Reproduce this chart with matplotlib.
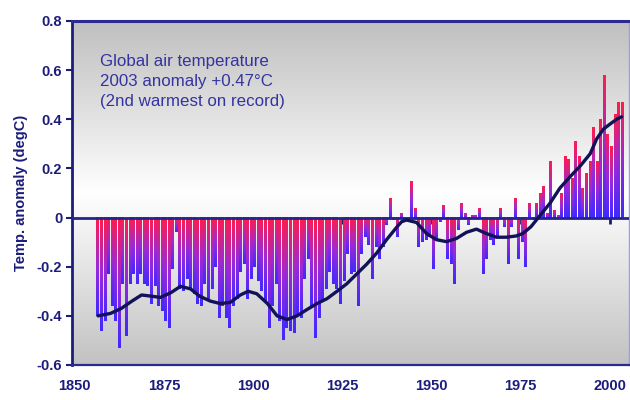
import numpy as np
import matplotlib
matplotlib.use('Agg')
import matplotlib.pyplot as plt
from matplotlib.colors import LinearSegmentedColormap

plt.rcParams['font.family'] = ['Liberation Sans', 'DejaVu Sans']

# annual global anomalies 1856-2003 (degC)
years = np.arange(1856, 2004)
temps = [
    -0.40, -0.46, -0.42, -0.23, -0.36, -0.42, -0.53, -0.27, -0.48, -0.27,  # 1856-1865
    -0.23, -0.27, -0.23, -0.27, -0.28, -0.35, -0.28, -0.36, -0.38, -0.42,  # 1866-1875
    -0.45, -0.21, -0.06, -0.29, -0.30, -0.25, -0.29, -0.31, -0.35, -0.36,  # 1876-1885
    -0.27, -0.34, -0.29, -0.20, -0.41, -0.36, -0.41, -0.45, -0.36, -0.33,  # 1886-1895
    -0.22, -0.19, -0.33, -0.25, -0.20, -0.26, -0.30, -0.34, -0.45, -0.36,  # 1896-1905
    -0.27, -0.42, -0.50, -0.45, -0.46, -0.47, -0.40, -0.41, -0.25, -0.17,  # 1906-1915
    -0.36, -0.49, -0.41, -0.34, -0.29, -0.22, -0.27, -0.29, -0.35, -0.26,  # 1916-1925
    -0.15, -0.23, -0.22, -0.36, -0.15, -0.08, -0.11, -0.25, -0.12, -0.17,  # 1926-1935
    -0.12, -0.03, 0.08, -0.01, -0.08, 0.02, -0.02, -0.01, 0.15, 0.04,      # 1936-1945
    -0.12, -0.10, -0.09, -0.08, -0.21, -0.09, -0.02, 0.05, -0.17, -0.19,   # 1946-1955
    -0.27, -0.05, 0.06, 0.02, -0.03, 0.01, 0.01, 0.04, -0.23, -0.17,       # 1956-1965
    -0.09, -0.11, -0.08, 0.04, -0.04, -0.19, -0.04, 0.08, -0.17, -0.10,    # 1966-1975
    -0.20, 0.06, -0.01, 0.06, 0.10, 0.13, 0.02, 0.23, 0.03, 0.01,          # 1976-1985
    0.10, 0.25, 0.24, 0.16, 0.31, 0.25, 0.12, 0.18, 0.23, 0.37,            # 1986-1995
    0.23, 0.40, 0.58, 0.34, 0.29, 0.42, 0.47, 0.47,                        # 1996-2003
]

# smoothed curve
curve_x = [1856.5, 1860, 1863, 1866, 1868.7, 1871.5, 1874, 1877, 1879.6, 1882.4,
           1885, 1888, 1890.8, 1893.6, 1896.4, 1898.6, 1901, 1904, 1906.7, 1909.5,
           1912.3, 1915, 1917.9, 1920.7, 1923.5, 1926.2, 1929, 1931.8, 1934.6, 1937.4,
           1940.2, 1941.6, 1943, 1945.8, 1948.6, 1951.4, 1954.2, 1957, 1959.8, 1962.6,
           1965.2, 1968.2, 1970.9, 1973.7, 1975.6, 1977.9, 1980.5, 1983.3, 1986,
           1988.9, 1991.7, 1994.5, 1996.3, 1998.2, 2000, 2001.9, 2003.3]
curve_y = [-0.40, -0.39, -0.37, -0.34, -0.315, -0.32, -0.325, -0.305, -0.28, -0.29,
           -0.32, -0.34, -0.35, -0.345, -0.315, -0.30, -0.31, -0.35, -0.40, -0.415,
           -0.40, -0.375, -0.35, -0.33, -0.30, -0.27, -0.23, -0.19, -0.145, -0.09,
           -0.04, -0.017, -0.01, -0.02, -0.065, -0.09, -0.098, -0.085, -0.06, -0.047,
           -0.064, -0.08, -0.08, -0.075, -0.065, -0.037, 0.01, 0.06, 0.12, 0.167,
           0.21, 0.26, 0.32, 0.36, 0.38, 0.40, 0.41]

yticks = [-0.6, -0.4, -0.2, 0, 0.2, 0.4, 0.6, 0.8]
ytick_labels = ['-0.6', '-0.4', '-0.2', '0', '0.2', '0.4', '0.6', '0.8']
xticks = [1850, 1875, 1900, 1925, 1950, 1975, 2000]

navy = '#1c1c7c'
xmin, xmax = 1849.2, 2005.3
ymin, ymax = -0.6, 0.8

fig = plt.figure(figsize=(6.3, 4), dpi=100)
ax = fig.add_axes([0.1143, 0.0875, 0.8837, 0.86])

# background gradient
bg_cmap = LinearSegmentedColormap.from_list('bg', [(0, '#c2c2c2'), (0.5, '#ffffff'), (1, '#bfbfbf')])
bg = np.linspace(0, 1, 256).reshape(-1, 1)
ax.imshow(bg, extent=[xmin, xmax, ymin, ymax], origin='lower', aspect='auto',
          cmap=bg_cmap, zorder=0, interpolation='bilinear')

# bars with vertical red->blue gradient
bar_cmap = LinearSegmentedColormap.from_list('bar', ['#4028ff', '#9a2ad8', '#ff1c4c'])
grad = np.linspace(0, 1, 64).reshape(-1, 1)
bars = ax.bar(years + 0.4, temps, width=0.7, color='none', zorder=2)
for b in bars:
    x0 = b.get_x()
    w = b.get_width()
    lo = min(b.get_y(), b.get_y() + b.get_height())
    hi = max(b.get_y(), b.get_y() + b.get_height())
    ax.imshow(grad, extent=[x0, x0 + w, lo, hi], origin='lower', aspect='auto',
              cmap=bar_cmap, zorder=2, interpolation='bilinear')

ax.axhline(0, color='#24248a', lw=2, zorder=3)
ax.plot(curve_x, curve_y, color='#121258', lw=2.4, zorder=5,
        solid_capstyle='round', solid_joinstyle='round')

ax.set_xlim(xmin, xmax)
ax.set_ylim(ymin, ymax)

ax.set_yticks(yticks)
ax.set_yticklabels(ytick_labels)
ax.set_xticks(xticks)
ax.tick_params(axis='y', direction='out', length=4, width=1.5, color=navy,
               labelsize=10.5, labelcolor=navy, pad=3)
ax.tick_params(axis='x', length=0, labelsize=10.5, labelcolor=navy, pad=10)
for lab in ax.get_xticklabels() + ax.get_yticklabels():
    lab.set_fontweight('bold')

# tick marks along the zero line
sec = ax.secondary_xaxis(0.6 / 1.4)
sec.set_xticks(xticks[1:])
sec.set_xticklabels([])
sec.tick_params(direction='out', length=4, width=2, color='#1c1c6c')
sec.spines['bottom'].set_visible(False)

ax.spines['left'].set_color(navy)
ax.spines['left'].set_linewidth(2)
ax.spines['top'].set_color('#2a2a90')
ax.spines['top'].set_linewidth(2.2)
ax.spines['bottom'].set_color('#2a2a90')
ax.spines['bottom'].set_linewidth(1.6)
ax.spines['right'].set_color('#a0a0c8')
ax.spines['right'].set_linewidth(1)

ax.set_ylabel('Temp. anomaly (degC)', fontsize=10.5, fontweight='bold', color=navy, labelpad=6)

ax.text(0.05, 0.905, 'Global air temperature\n2003 anomaly +0.47°C\n(2nd warmest on record)',
        transform=ax.transAxes, fontsize=12.2, color='#3434a0', va='top', ha='left',
        linespacing=1.42, zorder=6)

fig.savefig('out.png', dpi=100)
